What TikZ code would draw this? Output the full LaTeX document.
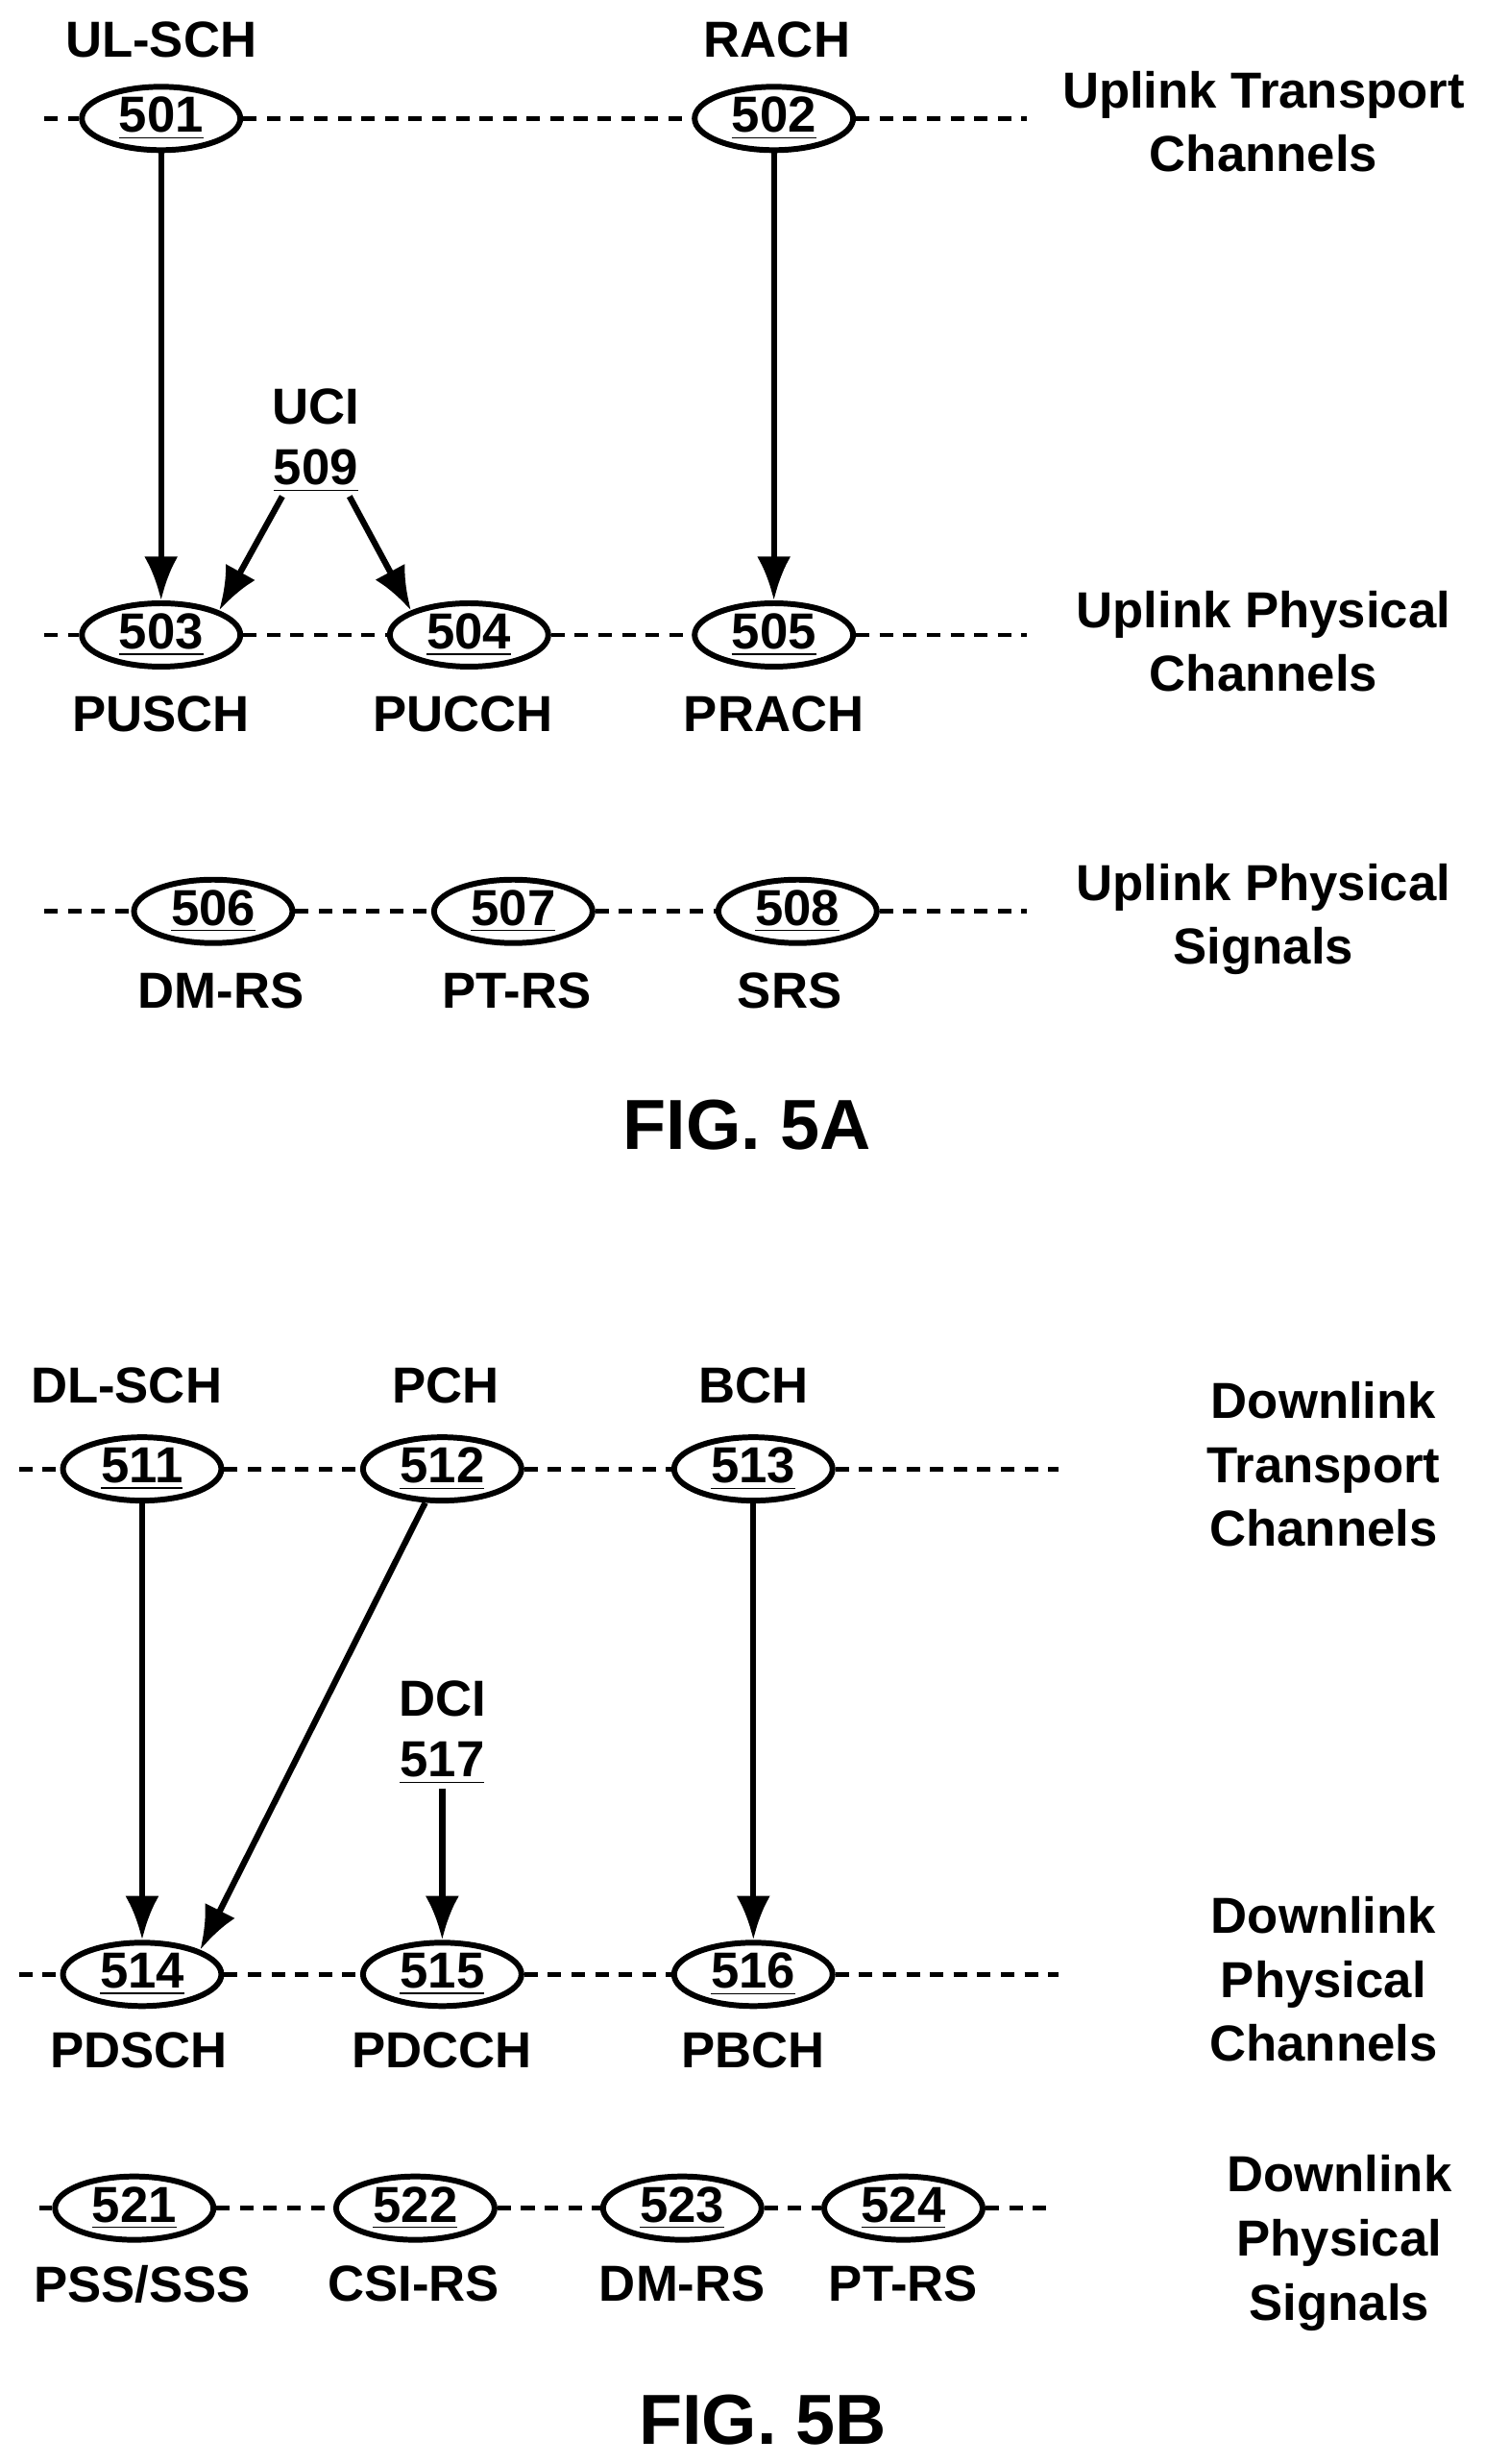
\documentclass[tikz,border=0pt]{standalone}
\usepackage{fontspec}
\setmainfont{Liberation Sans}
\usetikzlibrary{positioning, arrows.meta, shapes.geometric}

\begin{document}
\begin{tikzpicture}[x=0.01645cm, y=-0.01645cm, font=\bfseries\fontsize{15}{18}\selectfont]
    % Define node styles
    \tikzstyle{chan} = [ellipse, draw, line width=1.7pt, fill=white, minimum width=1.65cm, minimum height=0.66cm, inner sep=0pt]
    \tikzstyle{link} = [line width=1.4pt, dash pattern=on 4pt off 3pt]
    \tikzstyle{arr} = [-{Latex[length=13pt,width=10pt]}, line width=1.8pt]
    \tikzstyle{side} = [align=center, font=\bfseries\fontsize{15}{19}\selectfont]
    \tikzstyle{fig} = [font=\bfseries\fontsize{21}{25}\selectfont]

    \useasboundingbox (0,0) rectangle (940,1560);

    % FIG. 5A, uplink transport channels
    \coordinate (ta0) at (28,75);  \coordinate (ta1) at (650,75);
    \node[chan] (501) at (102,75) {\underline{501}};
    \node[chan] (502) at (490,75) {\underline{502}};
    \draw[link] (ta0) -- (501) -- (502) -- (ta1);
    \node (ulsch) at (102,25) {UL-SCH};
    \node (rach) at (492,25) {RACH};
    \node[side] at (800,77) {Uplink Transport\\Channels};

    % uplink physical channels
    \coordinate (pa0) at (28,402);  \coordinate (pa1) at (650,402);
    \node[chan] (503) at (102,402) {\underline{503}};
    \node[chan] (504) at (297,402) {\underline{504}};
    \node[chan] (505) at (490,402) {\underline{505}};
    \draw[link] (pa0) -- (503) -- (504) -- (505) -- (pa1);
    \node at (102,452) {PUSCH};
    \node at (293,452) {PUCCH};
    \node at (490,452) {PRACH};
    \node[side] at (800,406) {Uplink Physical\\Channels};

    \node[align=center, inner sep=1pt] (509) at (200,279) {UCI\\\underline{509}};
    \draw[arr] (501) -- (503);
    \draw[arr] (502) -- (505);
    \draw[arr] ([xshift=-0.35cm]509.south) -- (503.north east);
    \draw[arr] ([xshift=0.35cm]509.south) -- (504.north west);

    % uplink physical signals
    \coordinate (sa0) at (28,577);  \coordinate (sa1) at (650,577);
    \node[chan] (506) at (135,577) {\underline{506}};
    \node[chan] (507) at (325,577) {\underline{507}};
    \node[chan] (508) at (505,577) {\underline{508}};
    \draw[link] (sa0) -- (506) -- (507) -- (508) -- (sa1);
    \node at (140,627) {DM-RS};
    \node at (327,627) {PT-RS};
    \node at (500,627) {SRS};
    \node[side] at (800,582) {Uplink Physical\\Signals};

    \node[fig] at (473,712) {FIG. 5A};

    % FIG. 5B, downlink transport channels
    \coordinate (tb0) at (12,930);  \coordinate (tb1) at (670,930);
    \node[chan] (511) at (90,930) {\underline{511}};
    \node[chan] (512) at (280,930) {\underline{512}};
    \node[chan] (513) at (477,930) {\underline{513}};
    \draw[link] (tb0) -- (511) -- (512) -- (513) -- (tb1);
    \node at (80,877) {DL-SCH};
    \node at (282,877) {PCH};
    \node at (477,877) {BCH};
    \node[side] at (838,927) {Downlink\\Transport\\Channels};

    % downlink physical channels
    \coordinate (pb0) at (12,1250);  \coordinate (pb1) at (670,1250);
    \node[chan] (514) at (90,1250) {\underline{514}};
    \node[chan] (515) at (280,1250) {\underline{515}};
    \node[chan] (516) at (477,1250) {\underline{516}};
    \draw[link] (pb0) -- (514) -- (515) -- (516) -- (pb1);
    \node at (88,1298) {PDSCH};
    \node at (280,1298) {PDCCH};
    \node at (477,1298) {PBCH};
    \node[side] at (838,1253) {Downlink\\Physical\\Channels};

    \node[align=center, inner sep=1pt] (517) at (280,1097) {DCI\\\underline{517}};
    \draw[arr] (511) -- (514);
    \draw[arr] (512) -- (514.north east);
    \draw[arr] (513) -- (516);
    \draw[arr] (517) -- (515);

    % downlink physical signals
    \coordinate (sb0) at (25,1398);  \coordinate (sb1) at (668,1398);
    \node[chan] (521) at (85,1398) {\underline{521}};
    \node[chan] (522) at (263,1398) {\underline{522}};
    \node[chan] (523) at (432,1398) {\underline{523}};
    \node[chan] (524) at (572,1398) {\underline{524}};
    \draw[link] (sb0) -- (521) -- (522) -- (523) -- (524) -- (sb1);
    \node at (90,1446) {PSS/SSS};
    \node at (262,1446) {CSI-RS};
    \node at (432,1446) {DM-RS};
    \node at (572,1446) {PT-RS};
    \node[side] at (848,1420) {Downlink\\Physical\\Signals};

    \node[fig] at (483,1532) {FIG. 5B};
\end{tikzpicture}
\end{document}
